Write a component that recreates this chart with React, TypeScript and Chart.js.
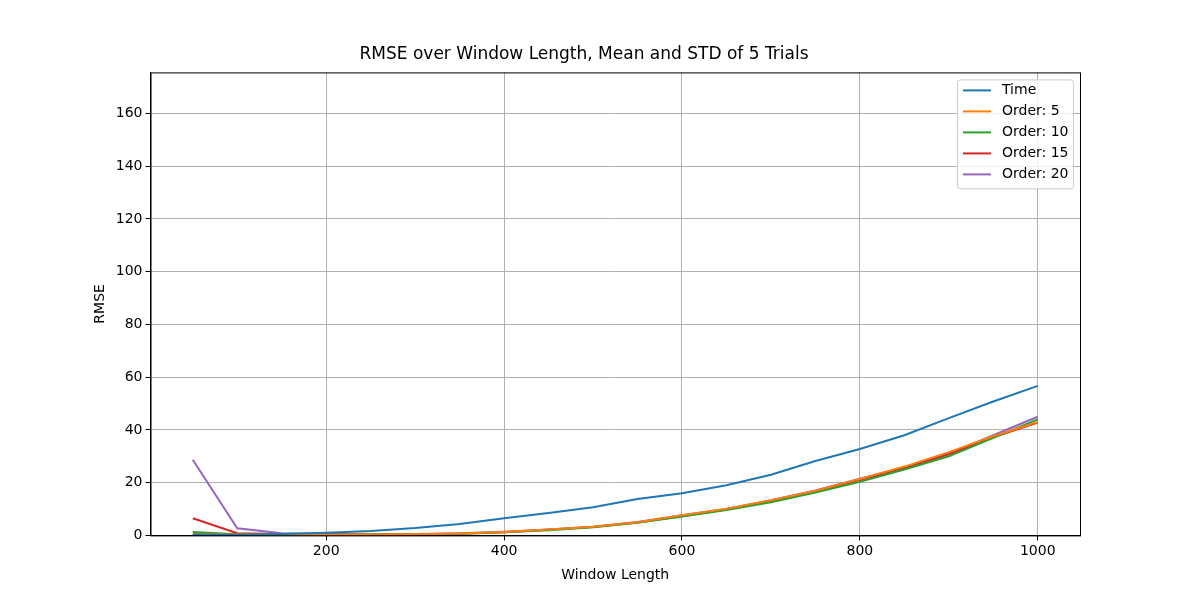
import { useEffect, useRef } from 'react';
import { Chart, registerables } from 'chart.js';

Chart.register(...registerables);

const windowLengths = [50, 100, 150, 200, 250, 300, 350, 400, 450, 500, 550, 600, 650, 700, 750, 800, 850, 900, 950, 1000];
const timeRmse = [0.3, 0.2, 0.5, 1.0, 1.7, 2.8, 4.3, 6.5, 8.5, 10.7, 13.8, 16.0, 19.0, 23.0, 28.2, 32.8, 38.0, 44.5, 50.8, 56.7];
const order5 = [0.5, 0.3, 0.2, 0.2, 0.3, 0.4, 0.7, 1.3, 2.2, 3.3, 5.0, 7.6, 10.1, 13.3, 16.9, 21.4, 26.1, 31.6, 37.6, 43.0];
const order10 = [1.3, 0.4, 0.2, 0.2, 0.3, 0.4, 0.6, 1.2, 2.0, 3.1, 4.8, 7.2, 9.6, 12.6, 16.3, 20.3, 25.0, 30.0, 37.0, 44.0];
const order15 = [6.5, 0.8, 0.5, 0.3, 0.3, 0.4, 0.6, 1.2, 2.1, 3.2, 4.9, 7.3, 9.8, 13.0, 16.5, 21.0, 25.5, 30.8, 37.2, 42.8];
const order20 = [28.7, 2.7, 0.8, 0.6, 0.4, 0.5, 0.8, 1.4, 2.2, 3.3, 5.1, 7.6, 10.0, 13.3, 17.0, 21.5, 25.8, 31.0, 38.0, 45.0];
const seriesNames = ['Time', 'Order: 5', 'Order: 10', 'Order: 15', 'Order: 20'];
const seriesColors = ['#1f77b4', '#ff7f0e', '#2ca02c', '#d62728', '#9467bd'];
const xTicks = [200, 400, 600, 800, 1000];
const yTicks = [0, 20, 40, 60, 80, 100, 120, 140, 160];

const FONT = 'DejaVu Sans';

const legendPlugin = {
  id: 'insideLegend',
  afterDraw(chart: any) {
    const { ctx, chartArea } = chart;
    ctx.save();
    // frame around the plot area
    ctx.strokeStyle = '#000';
    ctx.lineWidth = 1;
    ctx.strokeRect(chartArea.left + 0.5, chartArea.top + 0.5, chartArea.right - chartArea.left, chartArea.bottom - chartArea.top);

    const w = 116, h = 109;
    const x = chartArea.right - w - 7, y = chartArea.top + 7;
    ctx.fillStyle = 'rgba(255,255,255,0.8)';
    ctx.strokeStyle = '#cccccc';
    ctx.beginPath();
    ctx.roundRect(x + 0.5, y + 0.5, w, h, 3);
    ctx.fill();
    ctx.stroke();
    ctx.font = `14px ${FONT}`;
    ctx.textBaseline = 'middle';
    seriesNames.forEach((name, i) => {
      const cy = y + 11 + i * 21;
      ctx.strokeStyle = seriesColors[i];
      ctx.lineWidth = 2;
      ctx.beginPath();
      ctx.moveTo(x + 6, cy);
      ctx.lineTo(x + 34, cy);
      ctx.stroke();
      ctx.fillStyle = '#000';
      ctx.fillText(name, x + 45, cy);
    });
    ctx.restore();
  },
};

export default function App() {
  const chartRef = useRef<HTMLCanvasElement>(null);

  useEffect(() => {
    document.body.style.margin = '0';
    if (!chartRef.current) return;
    const ctx = chartRef.current.getContext('2d');
    if (!ctx) return;
    const series = [timeRmse, order5, order10, order15, order20];

    const chart = new Chart(ctx, {
      type: 'line',
      data: {
        datasets: series.map((vals, i) => ({
          label: seriesNames[i],
          data: windowLengths.map((x, j) => ({ x, y: vals[j] })),
          borderColor: seriesColors[i],
          borderWidth: 2,
          pointRadius: 0,
          tension: 0,
          fill: false,
        })),
      },
      options: {
        animation: false,
        responsive: false,
        layout: { padding: { left: 88, right: 120, top: 44, bottom: 12 } },
        scales: {
          x: {
            type: 'linear',
            min: 2.5,
            max: 1047.5,
            afterBuildTicks: (axis: any) => { axis.ticks = xTicks.map((v) => ({ value: v })); },
            grid: { color: '#b0b0b0', tickColor: '#000', tickLength: 5 },
            border: { color: '#000' },
            ticks: { color: '#000', font: { family: FONT, size: 14 }, maxRotation: 0, callback: (v: any) => String(v) },
            title: { display: true, text: 'Window Length', color: '#000', font: { family: FONT, size: 14 } },
          },
          y: {
            type: 'linear',
            min: 0,
            max: 175.6,
            afterBuildTicks: (axis: any) => { axis.ticks = yTicks.map((v) => ({ value: v })); },
            grid: { color: '#b0b0b0', tickColor: '#000', tickLength: 5 },
            border: { color: '#000' },
            ticks: { color: '#000', font: { family: FONT, size: 14 }, callback: (v: any) => String(v) },
            title: { display: true, text: 'RMSE', color: '#000', font: { family: FONT, size: 14 } },
          },
        },
        plugins: {
          legend: { display: false },
          tooltip: { enabled: false },
          title: {
            display: true,
            text: 'RMSE over Window Length, Mean and STD of 5 Trials',
            color: '#000',
            font: { family: FONT, size: 17, weight: 'normal' },
            padding: { top: 0, bottom: 8 },
          },
        },
      },
      plugins: [legendPlugin],
    });

    return () => {
      chart.destroy();
    };
  }, []);

  return (
    <div style={{ width: 1200, height: 600, background: '#fff' }}>
      <canvas ref={chartRef} width={1200} height={600}></canvas>
    </div>
  );
}
